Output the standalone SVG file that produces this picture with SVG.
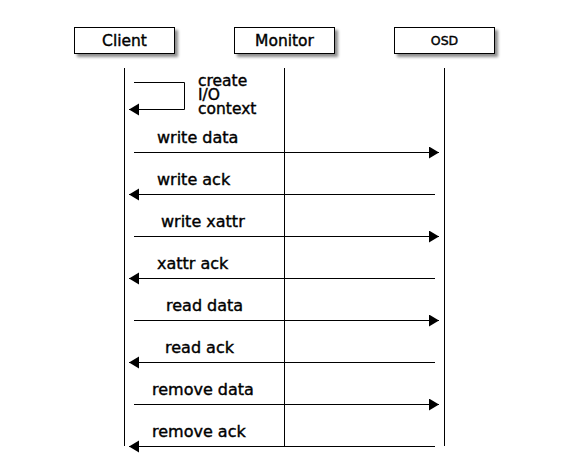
<svg xmlns="http://www.w3.org/2000/svg" width="577" height="476" viewBox="0 0 577 476">
  <style>
    .box { fill: #ffffff; stroke: #000000; stroke-width: 1; }
    .shadow { fill: #000000; opacity: 0.45; }
    .life { stroke: #000000; stroke-width: 1; fill: none; }
    .msg { stroke: #000000; stroke-width: 1; fill: none; }
    .fwd { marker-end: url(#head); }
    text { font-family: "DejaVu Sans", "Liberation Sans", sans-serif; fill: #000000; stroke: #000000; stroke-width: 0.4px; }
    .node { font-size: 15.5px; text-anchor: middle; }
    .lbl { font-size: 16px; }
    .note { font-size: 15.5px; }
  </style>
  <defs>
    <filter id="soft" x="-20%" y="-40%" width="140%" height="180%">
      <feGaussianBlur stdDeviation="1.5"/>
    </filter>
    <marker id="head" markerUnits="userSpaceOnUse" markerWidth="11" markerHeight="13" refX="10" refY="6" orient="auto">
      <path d="M0,0 L10,6 L0,12 z" fill="#000000"/>
    </marker>
  </defs>
  <rect width="577" height="476" fill="#ffffff"/>

  <!-- lifelines -->
  <g id="lifelines">
    <line class="life" x1="124.5" y1="68" x2="124.5" y2="446"/>
    <line class="life" x1="284.5" y1="68" x2="284.5" y2="446"/>
    <line class="life" x1="444.5" y1="68" x2="444.5" y2="446"/>
  </g>

  <!-- participants -->
  <g id="client">
    <rect class="shadow" x="77" y="30" width="101" height="27" filter="url(#soft)"/>
    <rect class="box" x="74.5" y="27.5" width="100" height="26"/>
    <text class="node" x="124.5" y="46">Client</text>
  </g>
  <g id="monitor">
    <rect class="shadow" x="237" y="30" width="101" height="27" filter="url(#soft)"/>
    <rect class="box" x="234.5" y="27.5" width="100" height="26"/>
    <text class="node" x="284.5" y="46">Monitor</text>
  </g>
  <g id="osd">
    <rect class="shadow" x="397" y="30" width="101" height="27" filter="url(#soft)"/>
    <rect class="box" x="394.5" y="27.5" width="100" height="26"/>
    <text class="node" x="444.5" y="44.5" style="font-size:12.5px">OSD</text>
  </g>

  <!-- messages -->
  <g id="connectors">
    <polyline class="msg fwd" points="134,82.5 184.5,82.5 184.5,109.5 129,109.5"/>
    <line class="msg fwd" x1="134" y1="152.5" x2="439" y2="152.5"/>
    <line class="msg fwd" x1="435" y1="194.5" x2="129" y2="194.5"/>
    <line class="msg fwd" x1="134" y1="236.5" x2="439" y2="236.5"/>
    <line class="msg fwd" x1="435" y1="278.5" x2="129" y2="278.5"/>
    <line class="msg fwd" x1="134" y1="320.5" x2="439" y2="320.5"/>
    <line class="msg fwd" x1="435" y1="362.5" x2="129" y2="362.5"/>
    <line class="msg fwd" x1="134" y1="404.5" x2="439" y2="404.5"/>
    <line class="msg fwd" x1="435" y1="446.5" x2="129" y2="446.5"/>
  </g>

  <!-- message labels -->
  <g id="labels">
    <text class="note" x="198" y="86">create</text>
    <text class="note" x="198" y="100">I/O</text>
    <text class="note" x="198" y="114">context</text>
    <text class="lbl" x="157" y="143">write data</text>
    <text class="lbl" x="157" y="185">write ack</text>
    <text class="lbl" x="161" y="227">write xattr</text>
    <text class="lbl" x="157" y="269">xattr ack</text>
    <text class="lbl" x="166" y="311">read data</text>
    <text class="lbl" x="165" y="353">read ack</text>
    <text class="lbl" x="152" y="395">remove data</text>
    <text class="lbl" x="152" y="437">remove ack</text>
  </g>
</svg>
